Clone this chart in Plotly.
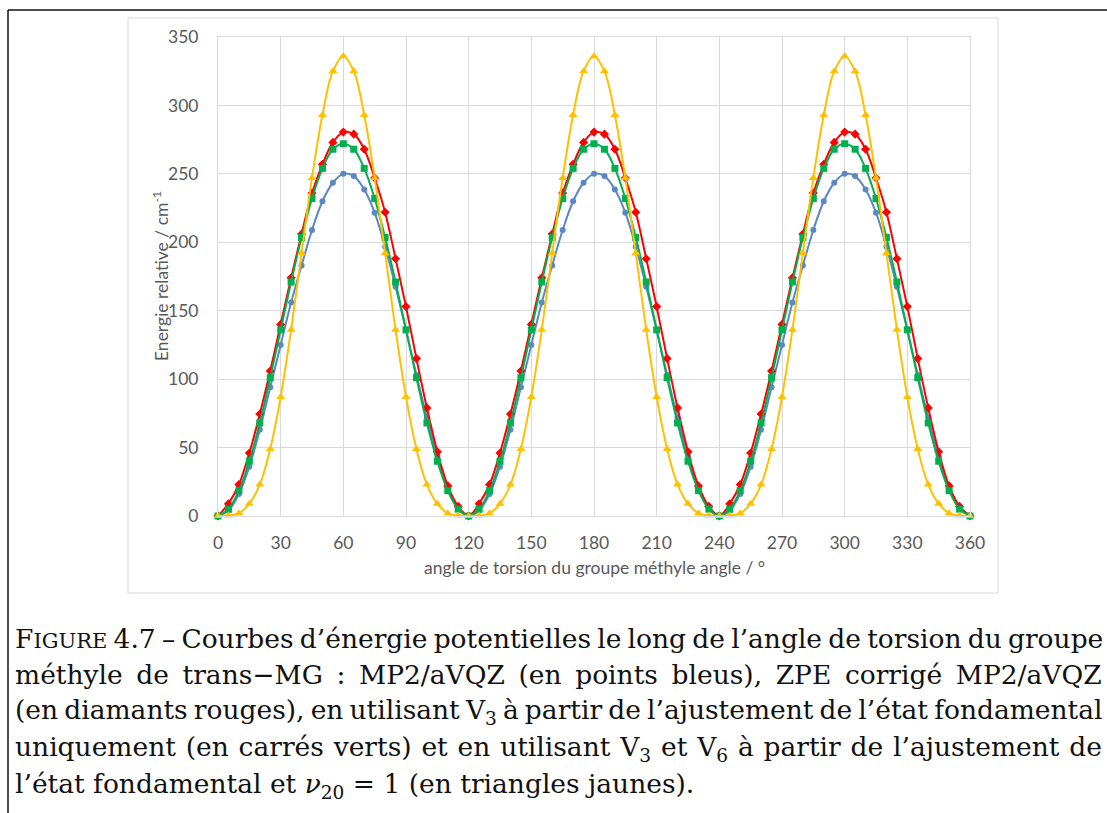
import plotly.graph_objects as go

angles = [0, 5, 10, 15, 20, 25, 30, 35, 40, 45, 50, 55, 60, 65, 70, 75, 80, 85, 90, 95, 100, 105, 110, 115,
          120, 125, 130, 135, 140, 145, 150, 155, 160, 165, 170, 175, 180, 185, 190, 195, 200, 205, 210, 215,
          220, 225, 230, 235, 240, 245, 250, 255, 260, 265, 270, 275, 280, 285, 290, 295, 300, 305, 310, 315,
          320, 325, 330, 335, 340, 345, 350, 355, 360]

mp2_blue = [0, 4, 16, 36, 63, 94, 125, 156, 183, 209, 230, 243.5, 250, 248.4, 238.6, 221.6, 196.7, 167.5, 136, 103, 72, 44, 21, 6,
            0, 4, 16, 36, 63, 94, 125, 156, 183, 209, 230, 243.5, 250, 248.4, 238.6, 221.6, 196.7, 167.5, 136, 103, 72, 44, 21, 6,
            0, 4, 16, 36, 63, 94, 125, 156, 183, 209, 230, 243.5, 250, 248.4, 238.6, 221.6, 196.7, 167.5, 136, 103, 72, 44, 21, 6,
            0]

zpe_red = [0, 9, 23, 46, 74.5, 106, 140, 174, 206, 236, 257, 273, 280.5, 279, 268, 247, 222, 188, 153, 115, 79, 47, 22, 7,
           0, 9, 23, 46, 74.5, 106, 140, 174, 206, 236, 257, 273, 280.5, 279, 268, 247, 222, 188, 153, 115, 79, 47, 22, 7,
           0, 9, 23, 46, 74.5, 106, 140, 174, 206, 236, 257, 273, 280.5, 279, 268, 247, 222, 188, 153, 115, 79, 47, 22, 7,
           0]

v3_green = [0, 5, 18.5, 40, 68, 101, 136, 171, 203.5, 232, 254, 268, 272, 268, 254, 232, 203.5, 171, 136, 101, 68, 40, 18.5, 5,
            0, 5, 18.5, 40, 68, 101, 136, 171, 203.5, 232, 254, 268, 272, 268, 254, 232, 203.5, 171, 136, 101, 68, 40, 18.5, 5,
            0, 5, 18.5, 40, 68, 101, 136, 171, 203.5, 232, 254, 268, 272, 268, 254, 232, 203.5, 171, 136, 101, 68, 40, 18.5, 5,
            0]

v3v6_yellow = [0, 0.3, 2, 9, 23, 49, 87, 136, 192, 247, 293, 325, 336, 325, 293, 247, 192, 136, 87, 49, 23, 9, 2, 0.3,
               0, 0.3, 2, 9, 23, 49, 87, 136, 192, 247, 293, 325, 336, 325, 293, 247, 192, 136, 87, 49, 23, 9, 2, 0.3,
               0, 0.3, 2, 9, 23, 49, 87, 136, 192, 247, 293, 325, 336, 325, 293, 247, 192, 136, 87, 49, 23, 9, 2, 0.3,
               0]

x_ticks = [0, 30, 60, 90, 120, 150, 180, 210, 240, 270, 300, 330, 360]
y_ticks = [0, 50, 100, 150, 200, 250, 300, 350]

y_title = "Energie relative / cm<sup>-1</sup>"
x_title = "angle de torsion du groupe méthyle angle / °"

caption_lines = [
    "F<span style='font-size:21px'>IGURE</span> 4.7 – Courbes d’énergie potentielles le long de l’angle de torsion du groupe",
    "méthyle de trans−MG : MP2/aVQZ (en points bleus), ZPE corrigé MP2/aVQZ",
    "(en diamants rouges), en utilisant V<sub>3</sub> à partir de l’ajustement de l’état fondamental",
    "uniquement (en carrés verts) et en utilisant V<sub>3</sub> et V<sub>6</sub> à partir de l’ajustement de",
    "l’état fondamental et <i>ν</i><sub>20</sub> = 1 (en triangles jaunes).",
]
caption_word_spacing = [-2.2, 5.2, -2.3, 1.4, 0]

W, H = 1107, 813
L, R, T, B = 218, 970, 37, 516


def px(x):
    return (x - L) / (R - L)


def py(y):
    return (B - y) / (B - T)


fig = go.Figure()
series = [
    ("MP2/aVQZ", mp2_blue, "#5b87c4", "circle", 6),
    ("ZPE MP2/aVQZ", zpe_red, "#ff0000", "diamond", 7),
    ("V3", v3_green, "#00b050", "square", 7),
    ("V3+V6", v3v6_yellow, "#ffc000", "triangle-up", 8),
]
for name, vals, col, sym, sz in series:
    fig.add_trace(go.Scatter(
        x=angles, y=vals, name=name, mode="lines+markers",
        line=dict(color=col, width=2, shape="spline", smoothing=1),
        marker=dict(color=col, symbol=sym, size=sz, line=dict(width=0)),
        cliponaxis=False,
    ))

grid = "#d9d9d9"
tick_font = dict(family="Lato, Carlito, sans-serif", size=17.5, color="#595959")
fig.update_xaxes(range=[0, 360], tickvals=x_ticks, showgrid=True, gridcolor=grid, gridwidth=1,
                 zeroline=False, showline=True, linecolor=grid, mirror=True,
                 tickfont=tick_font, ticks="", ticklabelstandoff=11, fixedrange=True)
fig.update_yaxes(range=[0, 350], tickvals=y_ticks, showgrid=True, gridcolor=grid, gridwidth=1,
                 zeroline=False, showline=True, linecolor=grid, mirror=True,
                 tickfont=tick_font, ticks="", ticklabelstandoff=15, fixedrange=True)

shapes = [
    dict(type="rect", xref="paper", yref="paper", x0=px(128), x1=px(998), y0=py(18), y1=py(593),
         line=dict(color=grid, width=1), fillcolor="rgba(0,0,0,0)", layer="below"),
    dict(type="line", xref="paper", yref="paper", x0=px(8), x1=px(1120), y0=py(10), y1=py(10),
         line=dict(color="#111111", width=1.5)),
    dict(type="line", xref="paper", yref="paper", x0=px(8), x1=px(8), y0=py(10), y1=py(830),
         line=dict(color="#111111", width=1.5)),
]

annotations = [
    dict(text=y_title, xref="paper", yref="paper", x=px(160), y=py(276), textangle=-90,
         showarrow=False, xanchor="center", yanchor="middle",
         font=dict(family="Lato, sans-serif", size=17.5, color="#595959")),
    dict(text=x_title, xref="paper", yref="paper", x=px(594), y=py(567),
         showarrow=False, xanchor="center", yanchor="middle",
         font=dict(family="Lato, sans-serif", size=17.5, color="#595959")),
]
base_y = [638, 674, 711, 748, 785]
for line, ws, yy in zip(caption_lines, caption_word_spacing, base_y):
    annotations.append(dict(text=f"<span style='word-spacing:{ws}px'>{line}</span>",
                            xref="paper", yref="paper", x=px(13), y=py(yy),
                            showarrow=False, xanchor="left", yanchor="middle", align="left",
                            font=dict(family="DejaVu Serif, serif", size=26.5, color="#111111")))

fig.update_layout(
    width=W, height=H, autosize=False,
    margin=dict(l=L, r=W - R, t=T, b=H - B, pad=0),
    paper_bgcolor="white", plot_bgcolor="white",
    showlegend=False,
    shapes=shapes, annotations=annotations,
)

fig.write_html("out.html", config={"displayModeBar": False},
               post_script="document.body.style.margin='0';document.body.style.overflow='hidden';")
